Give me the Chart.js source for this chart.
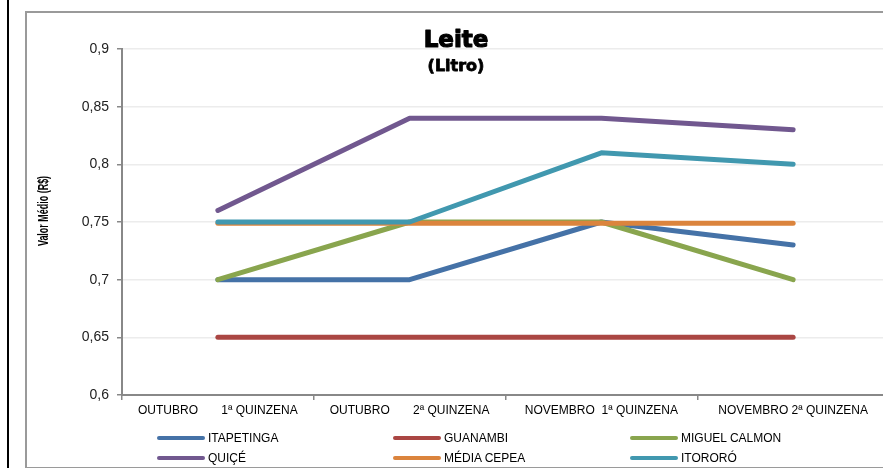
<!DOCTYPE html>
<html>
<head>
<meta charset="utf-8">
<script src="https://cdn.jsdelivr.net/npm/chart.js@4.4.1/dist/chart.umd.min.js"></script>
<style>
html, body { margin: 0; padding: 0; background: #fff; overflow: hidden; }
#wrap { position: relative; width: 883px; height: 468px; overflow: hidden; background: #fff; }
#edge { position: absolute; left: 7px; top: 0; width: 2px; height: 468px; background: #000; }
#frame { position: absolute; left: 25px; top: 11px; width: 1000px; height: 454px; border: 2px solid #9a9a9a; }
#box { position: absolute; left: 0; top: 0; width: 900px; height: 468px; }
#legend {
  position: absolute; left: 157px; top: 428px;
  display: grid; grid-template-columns: 236px 237px 200px; grid-auto-rows: 20px;
  font: 12px "Liberation Sans", Arial, sans-serif; color: #000;
}
#legend .it { display: flex; align-items: center; white-space: nowrap; }
#legend .ln { display: inline-block; width: 48px; height: 4px; border-radius: 2px; margin-right: 3px; }
</style>
</head>
<body>
<div id="wrap">
  <div id="edge"></div>
  <div id="frame"></div>
  <div id="box"><canvas id="c"></canvas></div>
  <div id="legend"></div>
</div>
<script>
// Leite (Litro) - valor médio por praça
const titleText = 'Leite';
const subtitleText = '(Litro)';
const yTitle = 'Valor Médio (R$)';

const categories = [
  'OUTUBRO       1ª QUINZENA',
  'OUTUBRO       2ª QUINZENA',
  'NOVEMBRO  1ª QUINZENA',
  'NOVEMBRO 2ª QUINZENA'
];

const seriesNames  = ['ITAPETINGA', 'GUANAMBI', 'MIGUEL CALMON', 'QUIÇÉ', 'MÉDIA CEPEA', 'ITORORÓ'];
const itapetinga   = [0.70, 0.70, 0.75, 0.73];
const guanambi     = [0.65, 0.65, 0.65, 0.65];
const miguelCalmon = [0.70, 0.75, 0.75, 0.70];
const quice        = [0.76, 0.84, 0.84, 0.83];
const mediaCepea   = [0.749, 0.749, 0.749, 0.749];
const itororo      = [0.75, 0.75, 0.81, 0.80];
const seriesColors = ['#4572A7', '#AA4643', '#89A54E', '#71588F', '#DB843D', '#4198AF'];

const yTicks = { min: 0.6, max: 0.9, step: 0.05 };

const allSeries = [itapetinga, guanambi, miguelCalmon, quice, mediaCepea, itororo];

const datasets = allSeries.map(function(vals, i) {
  return {
    label: seriesNames[i],
    data: vals,
    borderColor: seriesColors[i],
    backgroundColor: seriesColors[i],
    borderWidth: 5,
    borderCapStyle: 'round',
    borderJoinStyle: 'round',
    pointRadius: 0,
    tension: 0,
    fill: false,
    order: allSeries.length - i  // ultima serie desenhada por cima
  };
});

// titulo e rotulo do eixo Y
const decor = {
  id: 'decor',
  afterDraw(chart) {
    const c = chart.ctx;
    c.save();
    c.fillStyle = '#000';
    c.strokeStyle = '#000';
    c.lineJoin = 'round';
    c.textAlign = 'center';
    c.textBaseline = 'alphabetic';
    c.font = 'bold 23px "DejaVu Sans"';
    c.lineWidth = 1.2;
    c.fillText(titleText, 456, 47);
    c.strokeText(titleText, 456, 47);
    c.font = 'bold 16px "DejaVu Sans"';
    c.lineWidth = 0.8;
    c.fillText(subtitleText, 456, 71);
    c.strokeText(subtitleText, 456, 71);
    c.translate(44, 211);
    c.rotate(-Math.PI / 2);
    c.scale(0.64, 1);
    c.font = 'bold 14px "Liberation Sans"';
    c.textBaseline = 'middle';
    c.fillText(yTitle, 0, 0);
    c.restore();
  }
};

new Chart(document.getElementById('c'), {
  type: 'line',
  data: { labels: categories, datasets: datasets },
  options: {
    responsive: true,
    maintainAspectRatio: false,
    animation: false,
    layout: { padding: { top: 49, left: 0, right: 11, bottom: 0 } },
    plugins: { legend: { display: false }, tooltip: { enabled: false } },
    scales: {
      x: {
        offset: true,
        grid: { offset: true, drawOnChartArea: false, tickLength: 5, tickColor: '#888', lineWidth: 1.5 },
        border: { color: '#888', width: 2 },
        ticks: {
          font: { family: 'Liberation Sans', size: 12 }, color: '#000',
          maxRotation: 0, autoSkip: false, padding: 3
        },
        afterFit: function(s) { s.height = 73; }
      },
      y: {
        min: yTicks.min,
        max: yTicks.max,
        grid: { color: '#ececec', lineWidth: 1.5, tickLength: 5, tickColor: '#888' },
        border: { color: '#888', width: 2 },
        ticks: {
          stepSize: yTicks.step,
          font: { family: 'Liberation Sans', size: 14 }, color: '#222',
          padding: 8,
          callback: function(v) { return String(Math.round(v * 100) / 100).replace('.', ','); }
        },
        afterFit: function(s) { s.width = 122; }
      }
    }
  },
  plugins: [decor]
});

// legenda em 3 colunas
const leg = document.getElementById('legend');
seriesNames.forEach(function(n, i) {
  const d = document.createElement('div');
  d.className = 'it';
  d.innerHTML = '<span class="ln" style="background:' + seriesColors[i] + '"></span>' + n;
  leg.appendChild(d);
});
</script>
</body>
</html>
